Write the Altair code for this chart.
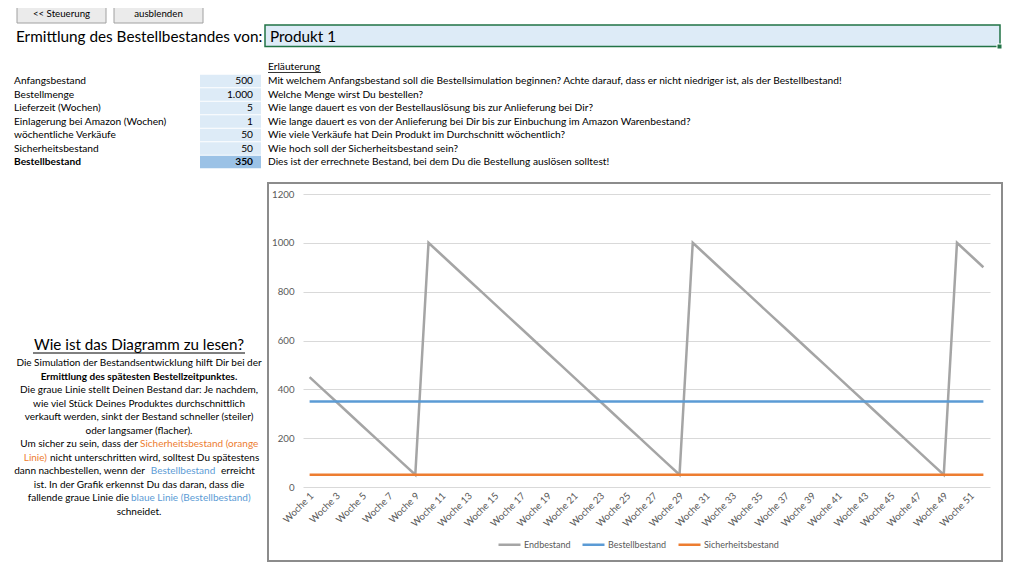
import altair as alt
import pandas as pd

FONT = "Lato"
OX, OY = 303, 194          # page position of the plot origin
W, H = 687, 293            # plot area

# ---------------- data ----------------
weeks = [f"Woche {i}" for i in range(1, 53)]
label_weeks = [f"Woche {i}" for i in range(1, 53, 2)]
endbestand = [450, 400, 350, 300, 250, 200, 150, 100, 50,
              1000, 950, 900, 850, 800, 750, 700, 650, 600, 550, 500,
              450, 400, 350, 300, 250, 200, 150, 100, 50,
              1000, 950, 900, 850, 800, 750, 700, 650, 600, 550, 500,
              450, 400, 350, 300, 250, 200, 150, 100, 50,
              1000, 950, 900]
bestellbestand = [350] * 52
sicherheitsbestand = [50] * 52
series = ["Endbestand", "Bestellbestand", "Sicherheitsbestand"]
series_colors = ["#a5a5a5", "#5b9bd5", "#ed7d31"]
y_ticks = [0, 200, 400, 600, 800, 1000, 1200]

param_labels = ["Anfangsbestand", "Bestellmenge", "Lieferzeit (Wochen)",
                "Einlagerung bei Amazon (Wochen)", "wöchentliche Verkäufe",
                "Sicherheitsbestand", "Bestellbestand"]
param_values = ["500", "1.000", "5", "1", "50", "50", "350"]
param_notes = [
    "Mit welchem Anfangsbestand soll die Bestellsimulation beginnen? Achte darauf, dass er nicht niedriger ist, als der Bestellbestand!",
    "Welche Menge wirst Du bestellen?",
    "Wie lange dauert es von der Bestellauslösung bis zur Anlieferung bei Dir?",
    "Wie lange dauert es von der Anlieferung bei Dir bis zur Einbuchung im Amazon Warenbestand?",
    "Wie viele Verkäufe hat Dein Produkt im Durchschnitt wöchentlich?",
    "Wie hoch soll der Sicherheitsbestand sein?",
    "Dies ist der errechnete Bestand, bei dem Du die Bestellung auslösen solltest!",
]

df = pd.DataFrame({
    "Woche": weeks * 3,
    "Reihe": ["Endbestand"] * 52 + ["Bestellbestand"] * 52 + ["Sicherheitsbestand"] * 52,
    "Wert": endbestand + bestellbestand + sicherheitsbestand,
})

ORANGE = "#ed7d31"
BLUE = "#5b9bd5"
TS = 10.2   # table text size
BS = 10.0   # body text size (left block)


def one():
    return alt.Data(values=[{"k": 1}])


def txt(s, x, y, size=10, color="#000000", weight="normal", align="left", font=FONT):
    return alt.Chart(alt.Data(values=[{"t": s}])).mark_text(
        align=align, baseline="middle", fontSize=size, font=font,
        fontWeight=weight, color=color
    ).encode(x=alt.value(x - OX), y=alt.value(y - OY), text="t:N")


def box(x1, y1, x2, y2, fill, stroke=None, sw=1):
    kw = dict(fill=fill)
    if stroke:
        kw.update(stroke=stroke, strokeWidth=sw)
    return alt.Chart(one()).mark_rect(**kw).encode(
        x=alt.value(x1 - OX), x2=alt.value(x2 - OX),
        y=alt.value(y1 - OY), y2=alt.value(y2 - OY))


def hline(x1, x2, y, color="#000000", sw=1):
    return alt.Chart(one()).mark_rule(color=color, strokeWidth=sw).encode(
        x=alt.value(x1 - OX), x2=alt.value(x2 - OX), y=alt.value(y - OY))


layers = []

# buttons
layers.append(box(17, 4, 106, 23, "#ebebeb", "#a0a0a0"))
layers.append(box(114, 4, 203, 23, "#ebebeb", "#a0a0a0"))
layers.append(txt("<< Steuerung", 61.5, 13.5, 9.7, align="center"))
layers.append(txt("ausblenden", 158.5, 13.5, 9.7, align="center"))

# title + input box
layers.append(txt("Ermittlung des Bestellbestandes von:", 16, 37, 15.3))
layers.append(box(265, 25, 1000, 46.5, "#ddebf7", "#217346", 1.5))
layers.append(box(997, 44, 1002, 49, "#217346", "#ffffff", 1))
layers.append(txt("Produkt 1", 270, 37, 15.3))

# parameter table
layers.append(txt("Erläuterung", 268, 67, TS))
layers.append(hline(268, 321, 72.5, "#000000", 0.8))
for i, (lab, val, note) in enumerate(zip(param_labels, param_values, param_notes)):
    yc = 81 + 13.5 * i
    last = i == len(param_labels) - 1
    layers.append(box(200, yc - 6.2, 261, yc + 6.2, "#9bc2e6" if last else "#ddebf7"))
    layers.append(txt(lab, 14, yc, TS, weight="bold" if last else "normal"))
    layers.append(txt(val, 253, yc, TS, weight="bold" if last else "normal", align="right"))
    layers.append(txt(note, 268, yc, TS))

# explanation block
layers.append(txt("Wie ist das Diagramm zu lesen?", 139, 345, 15.2, align="center"))
layers.append(hline(33, 245, 353, "#000000", 1))
ly = [363 + 13.5 * j for j in range(12)]
layers.append(txt("Die Simulation der Bestandsentwicklung hilft Dir bei der", 139, ly[0], BS, align="center"))
layers.append(txt("Ermittlung des spätesten Bestellzeitpunktes.", 139, ly[1], BS, weight="bold", align="center"))
layers.append(txt("Die graue Linie stellt Deinen Bestand dar: Je nachdem,", 139, ly[2], BS, align="center"))
layers.append(txt("wie viel Stück Deines Produktes durchschnittlich", 139, ly[3], BS, align="center"))
layers.append(txt("verkauft werden, sinkt der Bestand schneller (steiler)", 139, ly[4], BS, align="center"))
layers.append(txt("oder langsamer (flacher).", 139, ly[5], BS, align="center"))
layers.append(txt("Um sicher zu sein, dass der", 138, ly[6], BS, align="right"))
layers.append(txt("Sicherheitsbestand (orange", 140, ly[6], BS, color=ORANGE, align="left"))
layers.append(txt("Linie)", 47, ly[7], BS, color=ORANGE, align="right"))
layers.append(txt("nicht unterschritten wird, solltest Du spätestens", 50, ly[7], BS, align="left"))
layers.append(txt("dann nachbestellen, wenn der", 145, ly[8], BS, align="right"))
layers.append(txt("Bestellbestand", 183, ly[8], BS, color=BLUE, align="center"))
layers.append(txt("erreicht", 221, ly[8], BS, align="left"))
layers.append(txt("ist. In der Grafik erkennst Du das daran, dass die", 139, ly[9], BS, align="center"))
layers.append(txt("fallende graue Linie die", 129, ly[10], BS, align="right"))
layers.append(txt("blaue Linie (Bestellbestand)", 131, ly[10], BS, color=BLUE, align="left"))
layers.append(txt("schneidet.", 139, ly[11], BS, align="center"))

# chart border
layers.append(box(268, 183, 1002, 561, "transparent", "#8c8c8c", 2))

# main chart
lines = alt.Chart(df).mark_line(strokeWidth=2.5).encode(
    x=alt.X("Woche:N", sort=weeks, title=None,
            scale=alt.Scale(type="point", padding=0.5),
            axis=alt.Axis(values=label_weeks, labelAngle=-45, labelAlign="right",
                          labelBaseline="middle", labelPadding=7, labelOffset=2,
                          domain=False, ticks=False, grid=False,
                          labelFont=FONT, labelFontSize=9.7, labelColor="#595959")),
    y=alt.Y("Wert:Q", title=None, scale=alt.Scale(domain=[0, 1200], nice=False),
            axis=alt.Axis(values=y_ticks, format="d", domain=False, ticks=False, grid=True,
                          gridColor="#d9d9d9", gridWidth=1, labelPadding=9,
                          labelFont=FONT, labelFontSize=9.7, labelColor="#595959")),
    color=alt.Color("Reihe:N", scale=alt.Scale(domain=series, range=series_colors),
                    legend=alt.Legend(orient="none", legendX=194, legendY=338,
                                      direction="horizontal", title=None,
                                      symbolType="stroke", symbolSize=484,
                                      symbolStrokeWidth=2.5, labelOffset=2,
                                      columnPadding=6, padding=0,
                                      labelFont=FONT, labelFontSize=9,
                                      labelColor="#595959")),
)
layers.append(lines)

chart = alt.layer(*layers).properties(
    width=W, height=H,
    padding={"left": OX - 8, "top": OY - 8, "right": 1008 - (OX - 8) - W, "bottom": 562 - (OY - 8) - H},
    autosize=alt.AutoSizeParams(type="none"),
    background="white",
).configure_view(stroke=None)

chart.save("out.html", embed_options={"renderer": "svg", "actions": False})
